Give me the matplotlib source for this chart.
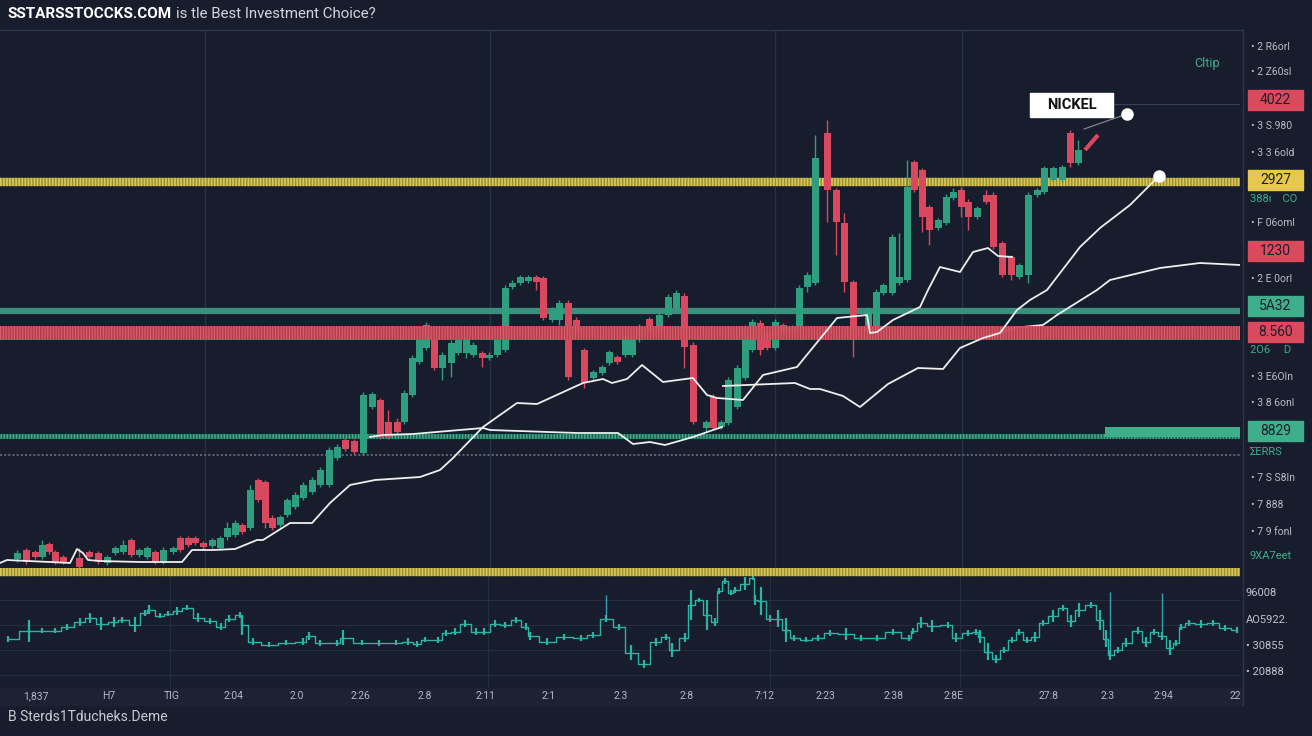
import matplotlib
matplotlib.use('Agg')
import matplotlib.pyplot as plt
from matplotlib.patches import Rectangle
from matplotlib.lines import Line2D

plt.rcParams['font.family'] = ['Roboto', 'DejaVu Sans']
plt.rcParams['lines.scale_dashes'] = False

# price candles (x = time position)
candle_x = [17, 26, 35, 42, 49, 55, 63, 79, 89, 98, 107, 115, 123, 131, 139, 147, 155, 163, 173, 180,
            188, 195, 203, 212, 220, 227, 235, 242, 250, 258, 265, 272, 280, 287, 295, 303, 312, 320, 329, 337,
            345, 354, 363, 372, 380, 388, 397, 404, 412, 419, 426, 434, 442, 451, 458, 466, 473, 482, 489, 497,
            505, 512, 520, 528, 536, 543, 552, 559, 568, 576, 584, 593, 602, 609, 617, 625, 632, 639, 649, 659,
            668, 676, 684, 693, 706, 713, 721, 728, 737, 745, 752, 760, 767, 775, 783, 792, 799, 807, 815, 827,
            836, 844, 853, 868, 876, 883, 892, 899, 907, 914, 922, 929, 938, 946, 953, 961, 968, 977, 986, 993,
            1002, 1011, 1019, 1028, 1037, 1044, 1053, 1062, 1070, 1078]
opens = [11, 20, 18, 13, 26, 18, 13, 12, 18, 17, 7, 17, 18, 30, 15, 13, 18, 8, 18, 32,
         32, 32, 27, 24, 22, 33, 35, 45, 42, 90, 88, 52, 45, 55, 63, 72, 78, 85, 85, 112,
         130, 129, 117, 163, 170, 148, 148, 148, 175, 208, 222, 230, 202, 207, 217, 217, 215, 217, 212, 215,
         220, 283, 287, 289, 293, 292, 250, 250, 267, 250, 220, 192, 197, 207, 213, 215, 215, 230, 251, 240,
         255, 262, 274, 225, 142, 173, 143, 147, 163, 192, 220, 247, 238, 222, 245, 240, 240, 283, 287, 437,
         380, 347, 288, 238, 240, 277, 277, 287, 290, 408, 400, 363, 342, 347, 372, 380, 368, 353, 375, 375,
         327, 313, 293, 295, 375, 378, 390, 390, 437, 407]
highs = [20, 22, 20, 30, 28, 20, 15, 22, 20, 19, 15, 24, 30, 32, 22, 24, 20, 23, 24, 34,
         34, 34, 29, 32, 34, 48, 50, 47, 85, 92, 90, 55, 55, 72, 78, 88, 93, 103, 123, 126,
         132, 131, 178, 178, 172, 160, 152, 180, 215, 233, 248, 232, 218, 230, 232, 234, 228, 219, 218, 233,
         285, 290, 295, 295, 295, 294, 263, 270, 270, 253, 222, 200, 205, 220, 215, 236, 235, 246, 253, 258,
         276, 280, 277, 228, 150, 176, 150, 193, 205, 245, 251, 250, 240, 251, 247, 245, 285, 298, 435, 450,
         382, 357, 290, 263, 281, 287, 336, 337, 410, 410, 402, 365, 352, 376, 382, 383, 371, 364, 380, 378,
         329, 315, 307, 378, 382, 404, 404, 405, 440, 430]
lows = [8, 6, 11, 11, 16, 6, 6, 1, 11, 6, 5, 15, 16, 13, 13, 11, 6, 6, 16, 18,
        23, 25, 21, 22, 20, 30, 33, 36, 40, 68, 42, 40, 43, 53, 61, 70, 76, 83, 83, 110,
        119, 116, 115, 161, 131, 131, 136, 146, 173, 206, 220, 200, 190, 193, 215, 212, 213, 203, 210, 213,
        218, 281, 285, 287, 280, 250, 248, 245, 190, 238, 182, 190, 195, 205, 206, 213, 213, 228, 238, 238,
        253, 260, 202, 146, 138, 140, 141, 145, 161, 190, 218, 215, 220, 220, 236, 238, 238, 278, 285, 348,
        315, 278, 213, 236, 238, 275, 275, 285, 288, 378, 338, 325, 340, 345, 370, 353, 340, 351, 366, 321,
        293, 290, 291, 287, 373, 376, 388, 388, 403, 405]
closes = [17, 8, 13, 25, 18, 8, 8, 3, 13, 8, 13, 22, 25, 15, 20, 22, 8, 20, 22, 20,
          25, 27, 23, 30, 32, 42, 47, 38, 80, 70, 47, 42, 53, 70, 75, 85, 90, 100, 120, 123,
          121, 118, 175, 176, 133, 133, 138, 177, 212, 230, 245, 202, 215, 227, 230, 230, 225, 212, 215, 230,
          282, 287, 293, 293, 288, 252, 260, 267, 193, 240, 187, 198, 203, 218, 208, 233, 232, 243, 240, 255,
          273, 277, 223, 148, 148, 142, 148, 190, 202, 242, 248, 220, 222, 248, 238, 243, 282, 295, 412, 380,
          348, 288, 230, 260, 278, 285, 333, 293, 383, 380, 353, 340, 350, 373, 378, 363, 353, 362, 368, 323,
          295, 295, 305, 375, 380, 402, 402, 403, 407, 420]

# moving-average style lines
ma1_x = [0, 7, 28, 50, 70, 77, 83, 88, 100, 140, 182, 192, 213, 235, 257, 263, 290, 312, 330, 350,
         375, 420, 440, 453, 483, 517, 537, 583, 603, 612, 627, 642, 663, 693, 707, 717, 743, 763, 797, 837,
         867, 870, 877, 893, 920, 928, 940, 960, 973, 988, 998, 1012]
ma1_y = [7, 10, 9, 8, 7, 21, 17, 10, 9, 8, 8, 20, 20, 21, 30, 30, 47, 47, 67, 85,
         90, 93, 100, 112, 143, 167, 166, 187, 191, 187, 191, 205, 188, 192, 175, 172, 170, 195, 203, 252,
         255, 237, 238, 250, 263, 280, 303, 298, 318, 322, 314, 313]
ma2_x = [370, 383, 413, 483, 490, 577, 618, 633, 650, 665, 693, 713, 722]
ma2_y = [133, 135, 136, 142, 140, 137, 137, 126, 128, 125, 133, 140, 143]
ma3_x = [723, 795, 810, 820, 843, 860, 888, 918, 943, 960, 983, 1000, 1017, 1030, 1047, 1080, 1100, 1130, 1159]
ma3_y = [184, 187, 181, 181, 174, 163, 186, 202, 201, 222, 232, 237, 260, 270, 280, 323, 342, 365, 394]
ma4_x = [990, 1000, 1013, 1043, 1057, 1097, 1110, 1160, 1200, 1240]
ma4_y = [236, 237, 242, 245, 255, 280, 290, 302, 307, 305]

# horizontal levels
level_yellow = 388
level_teal = 259
level_red = 237
level_green = 134
level_grey = 115

# lower indicator
ind_x = [8, 29, 42, 55, 67, 80, 90, 101, 114, 122, 135, 145, 149, 160, 168, 177, 187, 198, 210, 221,
         229, 240, 242, 253, 269, 286, 303, 309, 320, 337, 343, 362, 379, 396, 408, 417, 425, 438, 446, 455,
         465, 476, 484, 495, 505, 516, 526, 530, 547, 564, 581, 593, 606, 619, 631, 644, 656, 666, 672, 685,
         691, 699, 707, 715, 719, 725, 731, 735, 745, 753, 755, 761, 770, 778, 786, 794, 806, 818, 830, 846,
         861, 877, 893, 909, 913, 921, 932, 948, 956, 968, 976, 980, 988, 996, 1004, 1012, 1019, 1027, 1035, 1043,
         1053, 1063, 1071, 1079, 1091, 1100, 1106, 1110, 1118, 1126, 1138, 1146, 1154, 1162, 1170, 1176, 1181, 1189, 1201, 1213,
         1225, 1237]
ind_hi = [52, 68, 60, 60, 64, 70, 75, 71, 71, 71, 71, 78, 83, 75, 77, 81, 83, 75, 70, 65,
          73, 76, 73, 50, 46, 48, 50, 56, 48, 48, 58, 48, 48, 48, 50, 47, 51, 51, 58, 60,
          68, 60, 60, 68, 66, 71, 65, 56, 50, 54, 53, 56, 73, 64, 43, 28, 50, 54, 45, 55,
          98, 90, 88, 70, 100, 110, 98, 101, 111, 113, 93, 101, 73, 78, 70, 53, 51, 53, 58, 60,
          53, 53, 59, 53, 60, 71, 68, 66, 55, 58, 59, 58, 45, 33, 41, 51, 59, 51, 56, 68,
          78, 83, 73, 85, 86, 78, 58, 38, 41, 50, 61, 51, 59, 56, 48, 48, 64, 68, 68, 68,
          63, 61]
ind_lo = [46, 46, 55, 55, 58, 62, 65, 58, 61, 65, 56, 72, 74, 70, 72, 73, 78, 66, 64, 58,
          66, 70, 53, 43, 41, 43, 43, 48, 42, 42, 43, 43, 42, 43, 43, 41, 46, 45, 52, 53,
          61, 53, 53, 61, 60, 65, 58, 48, 43, 48, 47, 50, 66, 58, 28, 20, 42, 48, 31, 46,
          68, 86, 58, 62, 94, 104, 93, 95, 98, 108, 83, 73, 66, 61, 46, 47, 46, 47, 52, 48,
          47, 47, 53, 47, 54, 60, 56, 60, 46, 52, 53, 45, 28, 25, 35, 45, 53, 45, 46, 62,
          66, 77, 61, 71, 80, 58, 41, 28, 35, 41, 54, 41, 53, 48, 33, 42, 58, 62, 60, 62,
          57, 55]
spike_x = [606, 1110, 1162]
spike_top = [93, 96, 95]

tick_pos = [36, 109, 172, 234, 297, 360, 425, 486, 549, 621, 687, 765, 826, 894, 954, 1049, 1108, 1164, 1235]
tick_labels = ['1,837', 'H7', 'TIG', '2:04', '2.0', '2:26', '2.8', '2:11', '2:1', '2.3', '2:8', '7:12',
               '2:23', '2:38', '2:8E', '27:8', '2:3', '2:94', '22']

# right-hand price labels
plain_y = [47, 72, 126, 153, 223, 279, 377, 403, 478, 505, 532]
plain_text = ['• 2 R6orl', '• 2 Z60sl', '• 3 S.980', '• 3 3 6old', '• F 06oml', '• 2 E 0orl',
              '• 3 E6OIn', '• 3 8 6onl', '• 7 S S8In', '• 7 888', '• 7 9 fonl']
green_y = [199, 350, 452, 556]
green_text = ['388ı    CO', '2O6     D', 'ΣERRS', '9XA7eet']
box_y = [100, 180, 251, 306, 332, 431]
box_text = ['4022', '2927', '1230', '5A32', '8.560', '8829']
box_kind = ['red', 'yellow', 'red', 'green', 'red', 'green']
panel_y = [593, 620, 646, 672]
panel_text = ['96008', 'AO5922.', '• 30855', '• 20888']

W, H = 1312, 736
bg = '#171d2c'
green = '#2f9e7f'
red = '#d9485e'
box_colors = {'red': '#d94a5c', 'yellow': '#e6c84f', 'green': '#3fae8a'}


def fx(x):
    return x / W


def fy(y):
    return 1 - y / H


fig = plt.figure(figsize=(W / 100, H / 100), dpi=100, facecolor=bg)
ax = fig.add_axes([0, fy(568), 1240 / W, 538 / H], facecolor=bg)
ax2 = fig.add_axes([0, fy(688), 1240 / W, 120 / H], facecolor=bg)

for a in (ax, ax2):
    for s in a.spines.values():
        s.set_visible(False)
    a.set_xlim(0, 1240)
    a.set_yticks([])

ax.set_ylim(2, 540)
ax.set_xticks([])
for gx in [205, 490, 775, 962]:
    ax.axvline(gx, color='#2a3144', lw=1, zorder=0)

# levels
ax.axhline(level_yellow, color='#9c8e30', lw=6, zorder=1.5)
ax.axhline(level_yellow, color='#d8c65a', lw=6, dashes=(1.2, 1.0), zorder=1.6)
ax.axhline(level_teal, color='#3b8f7c', lw=4.5, zorder=1.5)
ax.axhline(level_green, color='#1d6453', lw=3.5, zorder=1.5)
ax.axhline(level_green, color='#3fb08c', lw=3.5, dashes=(1.0, 1.2), zorder=1.6)
ax.axhline(level_grey, color='#5c6170', lw=1.5, dashes=(1.5, 1.5), zorder=1.5)
ax.fill_between([1105, 1240], level_green - 1, level_green + 9, color='#3fae8a', lw=0, zorder=3)

# candles
cols = [green if c >= o else red for o, c in zip(opens, closes)]
body_lo = [min(o, c) for o, c in zip(opens, closes)]
body_h = [max(abs(c - o), 1.5) for o, c in zip(opens, closes)]
ax.vlines(candle_x, lows, highs, colors=cols, lw=1, zorder=2)
ax.bar(candle_x, body_h, bottom=body_lo, width=7, color=cols, zorder=2.2)

ax.axhline(level_red, color='#c23f4e', lw=10, zorder=2.5, alpha=0.95)
ax.axhline(level_red, color='#ea7a86', lw=10, dashes=(0.8, 1.2), zorder=2.6, alpha=0.6)

for lx, ly in [(ma1_x, ma1_y), (ma2_x, ma2_y), (ma3_x, ma3_y)]:
    ax.plot(lx, ly, color='#eeeeee', lw=1.3, zorder=4)
ax.plot(ma4_x, ma4_y, color='#eeeeee', lw=1.3, zorder=2.4)

# annotations
ax.plot(ma3_x[-1], ma3_y[-1], 'o', ms=8, color='white', zorder=5)
ax.plot([1084, 1127], [441, 456], color='#8a8f9a', lw=0.8, zorder=4)
ax.hlines(466, 1113, 1240, color='#3a4152', lw=0.8, zorder=1)
ax.plot(1127, 456, 'o', ms=8, color='white', zorder=5)
ax.plot([1085, 1098], [420, 435], color=red, lw=3, solid_capstyle='butt', zorder=4)
ax.add_patch(Rectangle((1030, 453), 83, 24, color='white', zorder=6))
ax.text(1071.5, 465, 'NICKEL', ha='center', va='center', fontsize=10.5, fontweight='bold',
        color='#111111', zorder=7)
ax.text(1207, 507, 'Cltip', ha='center', va='center', fontsize=9, color='#3fae8a')

# lower indicator
ax2.set_ylim(0, 120)
for gy in [13, 38, 63, 88]:
    ax2.axhline(gy, color='#262d3e', lw=0.8, zorder=0)
for gx in [170, 488, 770, 960]:
    ax2.axvline(gx, color='#262d3e', lw=0.8, zorder=0)
ax2.axhline(116, color='#9c8e30', lw=6, zorder=2)
ax2.axhline(116, color='#d8c65a', lw=6, dashes=(1.2, 1.0), zorder=2.1)
mid = [(a + b) / 2 for a, b in zip(ind_hi, ind_lo)]
ax2.vlines(ind_x, ind_lo, ind_hi, color='#2bb3a3', lw=1.6)
ax2.plot(ind_x, mid, color='#2bb3a3', lw=1, drawstyle='steps-mid')
ax2.vlines(spike_x, [ind_hi[ind_x.index(s)] for s in spike_x], spike_top, color='#3a9fb0', lw=1)
ax2.set_xticks(tick_pos)
ax2.set_xticklabels(tick_labels)
ax2.tick_params(axis='x', length=0, labelsize=7.5, labelcolor='#b4b8c2', pad=2)

# frame pieces
fig.add_artist(Rectangle((0, fy(705)), fx(1243), 17 / H, transform=fig.transFigure,
                         color='#1c2233', zorder=0))
fig.add_artist(Line2D([0, fx(1243)], [fy(30), fy(30)], transform=fig.transFigure, color='#2e3547', lw=1))
fig.add_artist(Line2D([fx(1243), fx(1243)], [fy(30), fy(705)], transform=fig.transFigure,
                      color='#2e3547', lw=1))

# right labels
for y, t in zip(plain_y, plain_text):
    fig.text(fx(1251), fy(y), t, fontsize=7.5, color='#b9bdc7', va='center', ha='left')
for y, t in zip(green_y, green_text):
    fig.text(fx(1250), fy(y), t, fontsize=8, color='#3fae8a', va='center', ha='left')
for y, t, k in zip(box_y, box_text, box_kind):
    fig.add_artist(Rectangle((fx(1248), fy(y + 10)), 55 / W, 20 / H, transform=fig.transFigure,
                             color=box_colors[k]))
    fig.text(fx(1275.5), fy(y), t, fontsize=10, color='#1b1f2b', va='center', ha='center')
for y, t in zip(panel_y, panel_text):
    fig.text(fx(1246), fy(y), t, fontsize=8, color='#c0c4ce', va='center', ha='left')

# titles
fig.text(fx(8), fy(14), 'SSTARSSTOCCKS.COM', fontsize=11, fontweight='bold', color='white',
         va='center', ha='left')
fig.text(fx(176), fy(14), 'is tle Best Investment Choice?', fontsize=10.8, color='#d2d6de',
         va='center', ha='left')
fig.text(fx(8), fy(717), 'B Sterds1Tducheks.Deme', fontsize=10, color='#c8ccd4', va='center', ha='left')

fig.savefig('out.png', dpi=100, facecolor=bg)
